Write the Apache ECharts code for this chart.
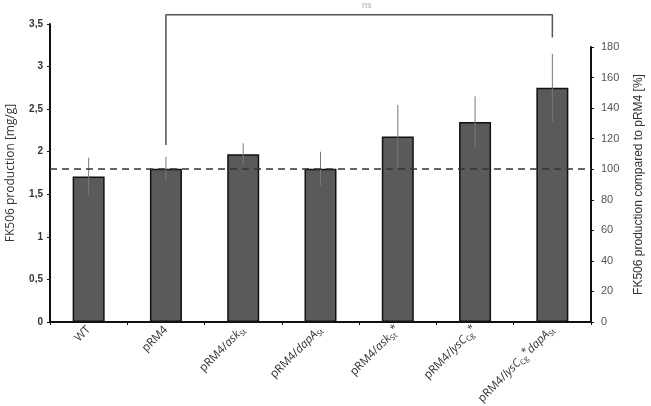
<!DOCTYPE html>
<html>
<head>
<meta charset="utf-8">
<script src="https://cdn.jsdelivr.net/npm/echarts@6/dist/echarts.min.js"></script>
<style>
  html, body { margin: 0; padding: 0; background: #fff; }
  #chart { width: 651px; height: 406px; }
</style>
</head>
<body>
<div id="chart"></div>
<script>
// 数据
var categories = ['WT', 'pRM4', 'pRM4/askSt', 'pRM4/dapASt', 'pRM4/askSt*', 'pRM4/lysCCg*', 'pRM4/lysCCg*dapASt'];
// rich text versions of the category names (italic gene names, subscripts)
var catLabels = [
    'WT',
    'pRM4',
    'pRM4/{i|ask}{sub|St}',
    'pRM4/{i|dapA}{sub|St}',
    'pRM4/{i|ask}{sub|St}{sup|*}',
    'pRM4/{i|lysC}{sub|Cg}{sup|*}',
    'pRM4/{i|lysC}{sub|Cg}{sup|*}{i|dapA}{sub|St}'
];
var production = [1.71, 1.80, 1.97, 1.80, 2.18, 2.35, 2.75];   // mg/g
var sdev = [0.22, 0.14, 0.13, 0.20, 0.37, 0.30, 0.40];
var refValue = 1.8;          // pRM4 = 100 %
var leftTicks = [0, 0.5, 1, 1.5, 2, 2.5, 3, 3.5];
var rightTicks = [0, 20, 40, 60, 80, 100, 120, 140, 160, 180];
// significance bracket: [category index, mg/g]
var bracket = [[1, 2.08], [1, 3.61], [6, 3.61], [6, 3.34]];

var chart = echarts.init(document.getElementById('chart'));

var labelFont = 'Open Sans';

var option = {
    animation: false,
    grid: [
        {left: 50, right: 60, top: 24, bottom: 84, outerBoundsMode: 'none'},
        {left: 50, right: 60, top: 47, bottom: 84, outerBoundsMode: 'none'}
    ],
    xAxis: [
        {
            type: 'category', gridIndex: 0, data: categories,
            axisLine: {lineStyle: {color: '#111', width: 2}},
            axisTick: {show: true, length: 3, lineStyle: {color: '#111'}},
            axisLabel: {
                rotate: 45, margin: 6, color: '#333', fontSize: 11.5,
                fontFamily: labelFont,
                formatter: function (v, i) { return catLabels[i]; },
                rich: {
                    i: {fontStyle: 'italic', fontSize: 11.5, fontFamily: labelFont, color: '#333'},
                    sub: {fontSize: 7.5, fontFamily: labelFont, color: '#333', verticalAlign: 'bottom', lineHeight: 15},
                    sup: {fontSize: 10, fontFamily: labelFont, color: '#333', verticalAlign: 'top', lineHeight: 15}
                }
            }
        },
        {type: 'category', gridIndex: 1, data: categories, show: false}
    ],
    yAxis: [
        {
            type: 'value', gridIndex: 0, min: 0, max: leftTicks[leftTicks.length - 1], interval: 0.5,
            name: 'FK506 production [mg/g]', nameLocation: 'middle', nameGap: 33,
            nameTextStyle: {fontSize: 12, color: '#333', fontFamily: 'Open Sans'},
            axisLine: {show: true, lineStyle: {color: '#111', width: 2}},
            axisTick: {show: true, length: 3, lineStyle: {color: '#111'}},
            splitLine: {show: false},
            axisLabel: {
                margin: 7, fontSize: 10, fontWeight: 'bold', color: '#333',
                fontFamily: 'Liberation Sans Narrow, Liberation Sans',
                formatter: function (v) { return String(v).replace('.', ','); }
            }
        },
        {
            type: 'value', gridIndex: 1, position: 'right', min: 0, max: rightTicks[rightTicks.length - 1], interval: 20,
            name: 'FK506 production compared to pRM4 [%]', nameLocation: 'middle', nameGap: 42, nameRotate: 90,
            nameTextStyle: {fontSize: 12, color: '#333', fontFamily: 'Liberation Sans'},
            axisLine: {show: true, lineStyle: {color: '#111', width: 2}},
            axisTick: {show: true, length: 3, lineStyle: {color: '#111'}},
            splitLine: {show: false},
            axisLabel: {margin: 10, fontSize: 11, color: '#555', fontFamily: 'Liberation Sans'}
        }
    ],
    graphic: [
        {type: 'text', left: 362, top: 1, style: {text: 'ns', fontSize: 9, fill: '#aab', fontFamily: 'Liberation Sans'}}
    ],
    series: [
        {
            type: 'bar', xAxisIndex: 0, yAxisIndex: 0, data: production, barWidth: 32,
            itemStyle: {color: '#5a5a5a', borderColor: '#111', borderWidth: 1.5},
            markLine: {
                silent: true, symbol: 'none', label: {show: false},
                lineStyle: {color: '#333', type: [7, 5], width: 1.5},
                data: [{yAxis: refValue}]
            },
            z: 2
        },
        {
            type: 'custom', xAxisIndex: 0, yAxisIndex: 0, z: 3,
            data: production.map(function (v, i) { return [i, v - sdev[i], v + sdev[i]]; }),
            renderItem: function (params, api) {
                var lo = api.coord([api.value(0), api.value(1)]);
                var hi = api.coord([api.value(0), api.value(2)]);
                return {
                    type: 'line',
                    shape: {x1: lo[0], y1: lo[1], x2: hi[0], y2: hi[1]},
                    style: {stroke: '#777', lineWidth: 1}
                };
            }
        },
        {
            type: 'line', xAxisIndex: 0, yAxisIndex: 0, data: bracket, clip: false,
            symbol: 'none', silent: true,
            lineStyle: {color: '#555', width: 1.5}
        }
    ]
};

chart.setOption(option);
</script>
</body>
</html>
